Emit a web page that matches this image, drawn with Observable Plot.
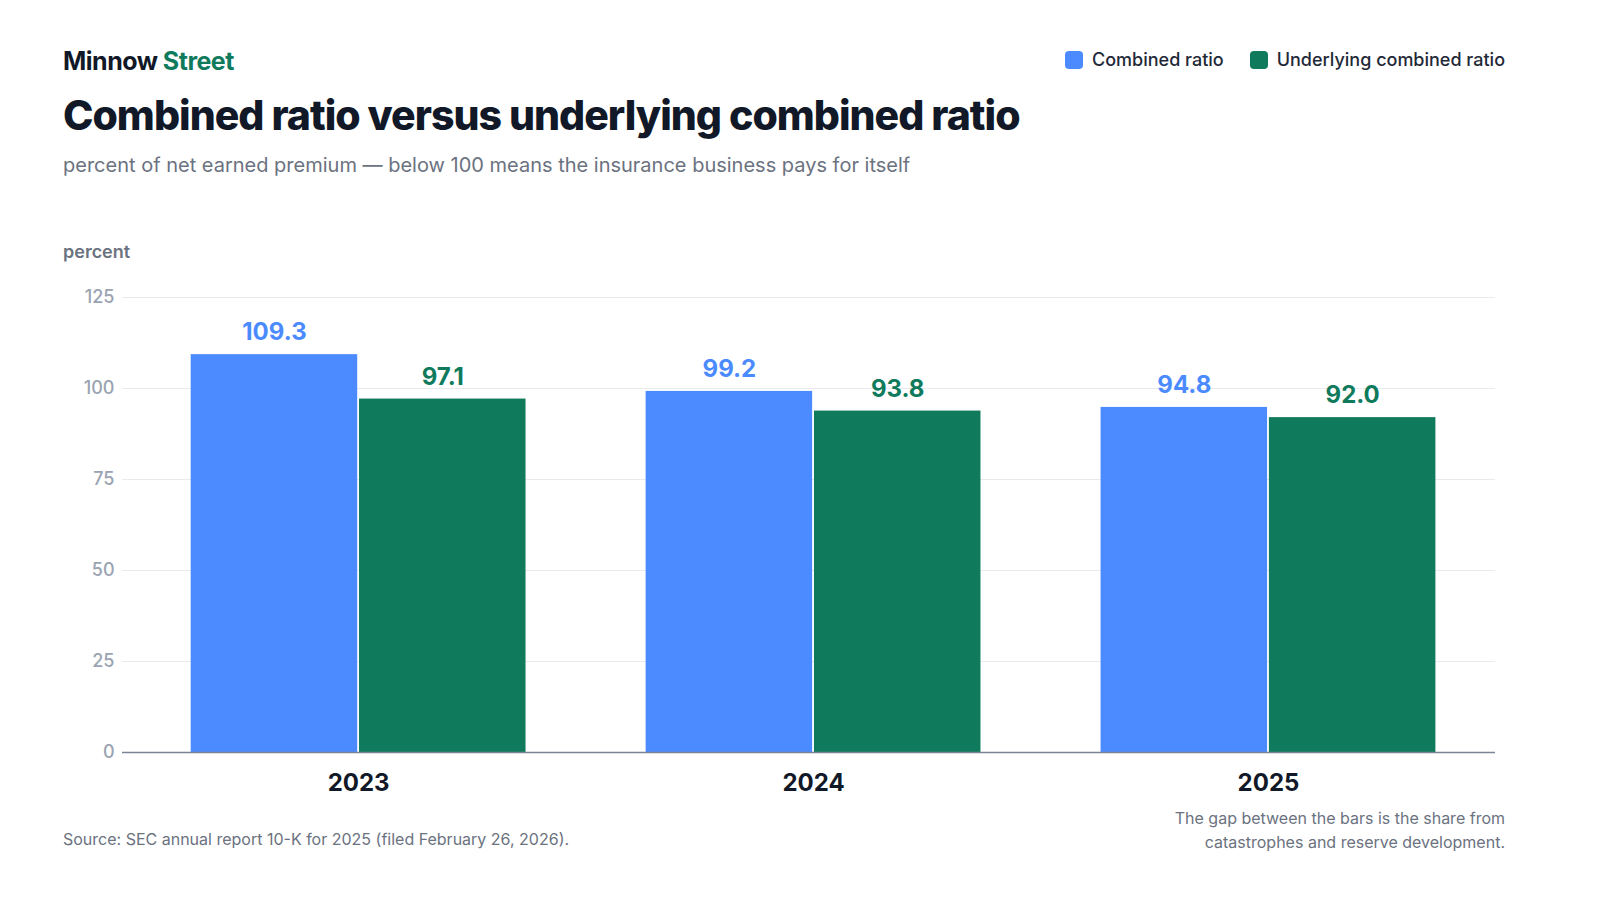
<!DOCTYPE html>
<html><head><meta charset="utf-8">
<script src="https://cdn.jsdelivr.net/npm/d3@7"></script>
<script src="https://cdn.jsdelivr.net/npm/@observablehq/plot@0.6"></script>
<style>
body{margin:0;width:1600px;height:900px;background:#fff;font-family:Inter,"Noto Sans",sans-serif;position:relative;overflow:hidden}
.a{position:absolute;white-space:nowrap}
#chart{position:absolute;left:0;top:240px}
.sw{display:inline-block;width:18px;height:18px;border-radius:4px;vertical-align:-3px;margin-right:9px}
</style></head><body>
<div class="a" style="left:63px;top:46px;font-size:25px;font-weight:700;color:#111827;letter-spacing:-0.5px">Minnow <span style="color:#0f7b5c">Street</span></div>
<div class="a" style="right:95px;top:49px;font-size:18px;color:#1f2937;font-weight:500"><span class="sw" style="background:#4b8bff"></span>Combined ratio<span style="display:inline-block;width:26px"></span><span class="sw" style="background:#0f7b5c"></span>Underlying combined ratio</div>
<div class="a" style="left:63px;top:90px;font-size:41px;font-weight:800;color:#111827;letter-spacing:-1px">Combined ratio versus underlying combined ratio</div>
<div class="a" style="left:63px;top:153px;font-size:20px;color:#6b7280">percent of net earned premium — below 100 means the insurance business pays for itself</div>
<div class="a" style="left:63px;top:241px;font-size:18px;font-weight:600;color:#6b7280">percent</div>
<div class="a" style="left:63px;top:829px;font-size:16px;color:#6b7280">Source: SEC annual report 10-K for 2025 (filed February 26, 2026).</div>
<div class="a" style="right:95px;top:806px;font-size:16px;color:#6b7280;text-align:right;line-height:24px">The gap between the bars is the share from<br>catastrophes and reserve development.</div>
<div id="chart"></div>
<script>
const years=[2023,2024,2025];
const combined=[109.3,99.2,94.8];
const underlying=[97.1,93.8,92.0];
const yTicks=[0,25,50,75,100,125];
const seriesNames=["Combined ratio","Underlying combined ratio"];
const colors=["#4b8bff","#0f7b5c"];
const data=[];
years.forEach((y,i)=>{
  data.push({year:y,s:0,v:combined[i],x1:y-0.368,x2:y-0.002});
  data.push({year:y,s:1,v:underlying[i],x1:y+0.002,x2:y+0.368});
});
const plot=Plot.plot({
  width:1600,height:580,marginTop:57,marginBottom:68,marginLeft:122,marginRight:105,
  x:{domain:[2022.481,2025.499],axis:null},
  y:{domain:[0,125],axis:null},
  style:{fontFamily:"Inter, 'Noto Sans', sans-serif"},
  marks:[
    Plot.ruleY(yTicks.filter(d=>d>0),{stroke:"#e8eaee",strokeWidth:1}),
    Plot.rectY(data,{x1:"x1",x2:"x2",y:"v",fill:d=>colors[d.s]}),
    Plot.ruleY([0],{stroke:"#7b8396",strokeWidth:1.5}),
    Plot.text(data,{x:d=>(d.x1+d.x2)/2,y:"v",text:d=>d.v.toFixed(1),dy:-22,fill:d=>colors[d.s],fontSize:24,fontWeight:700}),
    Plot.text(yTicks,{x:2022.481,y:d=>d,text:d=>String(d),textAnchor:"end",dx:-8,fill:"#9aa3b2",fontSize:18,fontWeight:500}),
    Plot.text(years,{x:d=>d,y:0,text:d=>String(d),dy:31,fill:"#111827",fontSize:24,fontWeight:700})
  ]
});
document.getElementById("chart").append(plot);
</script>
</body></html>
